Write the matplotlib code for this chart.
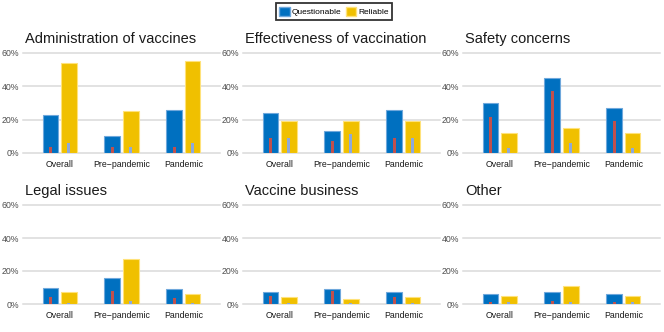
import matplotlib
matplotlib.use("Agg")
import matplotlib.pyplot as plt
from matplotlib.patches import Patch
import numpy as np

plt.rcParams['font.family'] = ['Liberation Sans', 'DejaVu Sans']

categories = ["Overall", "Pre\u2212pandemic", "Pandemic"]
panels = ["Administration of vaccines", "Effectiveness of vaccination", "Safety concerns",
          "Legal issues", "Vaccine business", "Other"]

questionable = [
    [23, 10, 26],
    [24, 13, 26],
    [30, 45, 27],
    [10, 16, 9],
    [7, 9, 7],
    [6, 7, 6],
]
reliable = [
    [54, 25, 55],
    [19, 19, 19],
    [12, 15, 12],
    [7, 27, 6],
    [4, 3, 4],
    [5, 11, 5],
]
questionable_inner = [
    [3.5, 3.5, 3.5],
    [9, 7, 9],
    [21.5, 37, 19],
    [4.5, 8, 3.5],
    [5, 8, 4.5],
    [1.5, 2, 1.5],
]
reliable_inner = [
    [6, 3.5, 6],
    [9, 11.5, 9],
    [3, 6, 3],
    [0.5, 2, 0.5],
    [0.5, 0.5, 0.5],
    [1, 1.5, 1],
]
yticks = [0, 20, 40, 60]
ytick_labels = ["0%", "20%", "40%", "60%"]

BLUE = "#0070C0"
BLUE_EDGE = "#6FA8DC"
YELLOW = "#F0C000"
YELLOW_EDGE = "#FFE27A"
RED = "#C0504D"
GRAYBLUE = "#8EA9DB"
GRID = "#DADADA"

W, H = 664, 332
fig = plt.figure(figsize=(W / 100, H / 100), dpi=100)

lefts = [23, 243, 463]
width_px = 197
rows = [(153, 100), (304, 99)]

x = np.arange(len(categories))
bw = 0.25
off = 0.15
iw = 0.05

for i, title in enumerate(panels):
    r, c = divmod(i, 3)
    y0, h = rows[r]
    ax = fig.add_axes([lefts[c] / W, (H - y0) / H, width_px / W, h / H])
    ax.set_xlim(-0.59, 2.59)
    ax.set_ylim(0, 60)
    for yv in yticks:
        ax.axhline(yv, color=GRID, lw=1.1, zorder=0, clip_on=False)
    ax.bar(x - off, questionable[i], bw, color=BLUE, edgecolor=BLUE_EDGE, lw=0.8, zorder=2)
    ax.bar(x + off, reliable[i], bw, color=YELLOW, edgecolor=YELLOW_EDGE, lw=0.8, zorder=2)
    ax.bar(x - off, questionable_inner[i], iw, color=RED, lw=0, zorder=3)
    ax.bar(x + off, reliable_inner[i], iw, color=GRAYBLUE, lw=0, zorder=3)
    for s in ax.spines.values():
        s.set_visible(False)
    ax.set_yticks(yticks)
    ax.set_yticklabels(ytick_labels, fontsize=6.3, color="#4D4D4D")
    ax.set_xticks(x)
    ax.set_xticklabels(categories, fontsize=6.3, color="#1A1A1A")
    ax.tick_params(length=0, pad=3)
    ax.tick_params(axis='x', pad=5)
    ax.set_title(title, loc="left", fontsize=10.5, pad=7, color="#1A1A1A", x=0.012)

handles = [Patch(facecolor=BLUE, edgecolor=BLUE_EDGE), Patch(facecolor=YELLOW, edgecolor=YELLOW_EDGE)]
leg = fig.legend(handles, ["Questionable", "Reliable"], loc="center", bbox_to_anchor=(334 / W, 1 - 11.5 / H),
                 ncol=2, fontsize=6, frameon=True, fancybox=False, edgecolor="black",
                 handlelength=1.25, handleheight=1.25, handletextpad=0.25, columnspacing=0.5,
                 borderpad=0.45, borderaxespad=0)
leg.get_frame().set_linewidth(1.3)

fig.savefig("out.png", dpi=100)
